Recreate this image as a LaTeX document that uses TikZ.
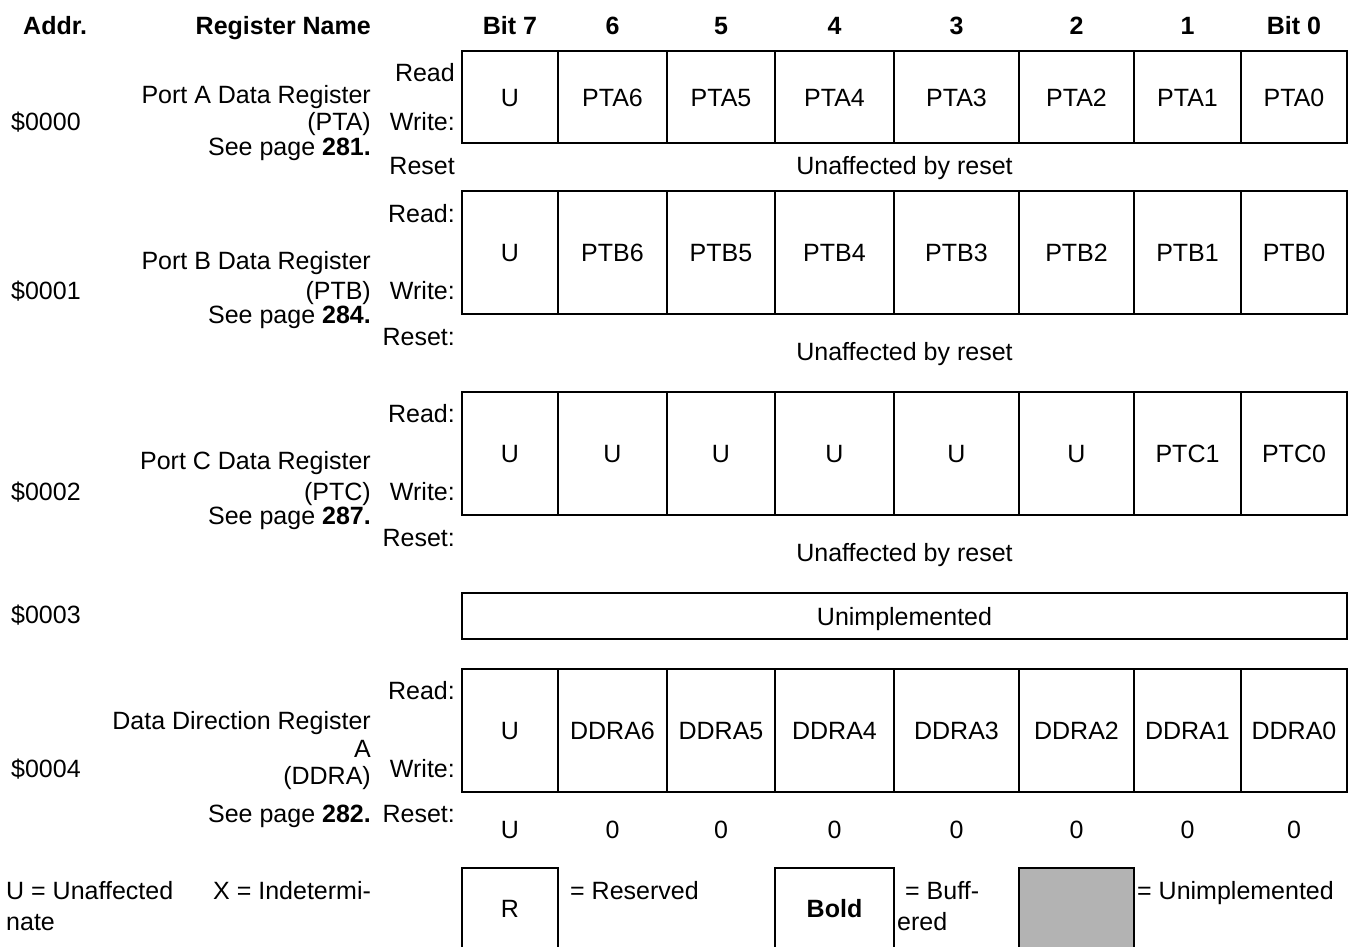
\documentclass[tikz,border=0pt]{standalone}
\usepackage{fontspec}
\setmainfont{Liberation Sans}
\usepackage{tikz}

\newcommand{\regfont}{\fontsize{25}{30}\selectfont}
\definecolor{unimpgray}{HTML}{B3B3B3}

\tikzset{
  txt/.style={inner sep=0pt, font=\regfont},
  hdr/.style={inner sep=0pt, font=\regfont\bfseries},
  cell/.style={draw, line width=2pt, inner sep=0pt, font=\regfont, text height=18pt, text depth=0pt},
  rowS/.style={minimum height=92pt},
  rowT/.style={minimum height=123pt},
  keybox/.style={cell, minimum height=80pt},
  col7/.style={minimum width=96pt},
  col6/.style={minimum width=109pt},
  col5/.style={minimum width=108pt},
  col4/.style={minimum width=119pt},
  col3/.style={minimum width=125pt},
  col2/.style={minimum width=115pt},
  col1/.style={minimum width=107pt},
  col0/.style={minimum width=106pt},
}

\begin{document}
\begin{tikzpicture}[x=1pt, y=-1pt]
    \useasboundingbox (0,0) rectangle (1349,946);
    % header line
    \node[hdr, anchor=base west] (haddr) at (23,34) {Addr.};
    \node[hdr, anchor=base east] (hname) at (371,34) {Register Name};
    \node[hdr, anchor=base] (hb7) at (510,34) {Bit 7};
    \node[hdr, anchor=base] (hb6) at (612.5,34) {6};
    \node[hdr, anchor=base] (hb5) at (721,34) {5};
    \node[hdr, anchor=base] (hb4) at (834.5,34) {4};
    \node[hdr, anchor=base] (hb3) at (956.5,34) {3};
    \node[hdr, anchor=base] (hb2) at (1076.5,34) {2};
    \node[hdr, anchor=base] (hb1) at (1187.5,34) {1};
    \node[hdr, anchor=base] (hb0) at (1294,34) {Bit 0};%
    % $0000 PTA
    \node[txt, anchor=base west] (addrA) at (11,130) {\$0000};
    \node[txt, anchor=base east] (nameA) at (371,103) {Port A Data Register};
    \node[txt, anchor=base east] (abbrA) at (371,130) {(PTA)};
    \node[txt, anchor=base east] (pageA) at (371,155) {See page \textbf{281.}};
    \node[txt, anchor=base east] (rdA) at (455,81) {Read};
    \node[txt, anchor=base east] (wrA) at (455,130) {Write:};
    \node[txt, anchor=base east] (rsA) at (455,174) {Reset};
    \node[cell, rowS, col7] (a7) at (510,97) {U};
    \node[cell, rowS, col6] (a6) at (612.5,97) {PTA6};
    \node[cell, rowS, col5] (a5) at (721,97) {PTA5};
    \node[cell, rowS, col4] (a4) at (834.5,97) {PTA4};
    \node[cell, rowS, col3] (a3) at (956.5,97) {PTA3};
    \node[cell, rowS, col2] (a2) at (1076.5,97) {PTA2};
    \node[cell, rowS, col1] (a1) at (1187.5,97) {PTA1};
    \node[cell, rowS, col0] (a0) at (1294,97) {PTA0};
    \node[txt, anchor=base] (resA) at (904.5,174) {Unaffected by reset};%
    % $0001 PTB
    \node[txt, anchor=base west] (addrB) at (11,299) {\$0001};
    \node[txt, anchor=base east] (nameB) at (371,269) {Port B Data Register};
    \node[txt, anchor=base east] (abbrB) at (371,299) {(PTB)};
    \node[txt, anchor=base east] (pageB) at (371,323) {See page \textbf{284.}};
    \node[txt, anchor=base east] (rdB) at (455,222) {Read:};
    \node[txt, anchor=base east] (wrB) at (455,299) {Write:};
    \node[txt, anchor=base east] (rsB) at (455,345) {Reset:};
    \node[cell, rowT, col7] (b7) at (510,252.5) {U};
    \node[cell, rowT, col6] (b6) at (612.5,252.5) {PTB6};
    \node[cell, rowT, col5] (b5) at (721,252.5) {PTB5};
    \node[cell, rowT, col4] (b4) at (834.5,252.5) {PTB4};
    \node[cell, rowT, col3] (b3) at (956.5,252.5) {PTB3};
    \node[cell, rowT, col2] (b2) at (1076.5,252.5) {PTB2};
    \node[cell, rowT, col1] (b1) at (1187.5,252.5) {PTB1};
    \node[cell, rowT, col0] (b0) at (1294,252.5) {PTB0};
    \node[txt, anchor=base] (resB) at (904.5,360) {Unaffected by reset};%
    % $0002 PTC
    \node[txt, anchor=base west] (addrC) at (11,500) {\$0002};
    \node[txt, anchor=base east] (nameC) at (371,469) {Port C Data Register};
    \node[txt, anchor=base east] (abbrC) at (371,500) {(PTC)};
    \node[txt, anchor=base east] (pageC) at (371,524) {See page \textbf{287.}};
    \node[txt, anchor=base east] (rdC) at (455,422) {Read:};
    \node[txt, anchor=base east] (wrC) at (455,500) {Write:};
    \node[txt, anchor=base east] (rsC) at (455,546) {Reset:};
    \node[cell, rowT, col7] (c7) at (510,453.5) {U};
    \node[cell, rowT, col6] (c6) at (612.5,453.5) {U};
    \node[cell, rowT, col5] (c5) at (721,453.5) {U};
    \node[cell, rowT, col4] (c4) at (834.5,453.5) {U};
    \node[cell, rowT, col3] (c3) at (956.5,453.5) {U};
    \node[cell, rowT, col2] (c2) at (1076.5,453.5) {U};
    \node[cell, rowT, col1] (c1) at (1187.5,453.5) {PTC1};
    \node[cell, rowT, col0] (c0) at (1294,453.5) {PTC0};
    \node[txt, anchor=base] (resC) at (904.5,561) {Unaffected by reset};%
    % $0003
    \node[txt, anchor=base west] (addrU) at (11,623) {\$0003};
    \node[cell, minimum width=885pt, minimum height=46pt] (unimp) at (904.5,616) {Unimplemented};%
    % $0004 DDRA
    \node[txt, anchor=base west] (addrD) at (11,777) {\$0004};
    \node[txt, anchor=base east] (nameD) at (371,729) {Data Direction Register};
    \node[txt, anchor=base east] (nameD2) at (371,757) {A};
    \node[txt, anchor=base east] (abbrD) at (371,784) {(DDRA)};
    \node[txt, anchor=base east] (pageD) at (371,822) {See page \textbf{282.}};
    \node[txt, anchor=base east] (rdD) at (455,699) {Read:};
    \node[txt, anchor=base east] (wrD) at (455,777) {Write:};
    \node[txt, anchor=base east] (rsD) at (455,822) {Reset:};
    \node[cell, rowT, col7] (d7) at (510,730.5) {U};
    \node[cell, rowT, col6] (d6) at (612.5,730.5) {DDRA6};
    \node[cell, rowT, col5] (d5) at (721,730.5) {DDRA5};
    \node[cell, rowT, col4] (d4) at (834.5,730.5) {DDRA4};
    \node[cell, rowT, col3] (d3) at (956.5,730.5) {DDRA3};
    \node[cell, rowT, col2] (d2) at (1076.5,730.5) {DDRA2};
    \node[cell, rowT, col1] (d1) at (1187.5,730.5) {DDRA1};
    \node[cell, rowT, col0] (d0) at (1294,730.5) {DDRA0};
    \node[txt, anchor=base] (r7) at (510,838) {U};
    \node[txt, anchor=base] (r6) at (612.5,838) {0};
    \node[txt, anchor=base] (r5) at (721,838) {0};
    \node[txt, anchor=base] (r4) at (834.5,838) {0};
    \node[txt, anchor=base] (r3) at (956.5,838) {0};
    \node[txt, anchor=base] (r2) at (1076.5,838) {0};
    \node[txt, anchor=base] (r1) at (1187.5,838) {0};
    \node[txt, anchor=base] (r0) at (1294,838) {0};%
    % key
    \node[txt, anchor=base west] (keyU) at (6,899) {U = Unaffected};
    \node[txt, anchor=base west] (keyX) at (213,899) {X = Indetermi-};
    \node[txt, anchor=base west] (keyX2) at (6,930) {nate};
    \node[keybox, col7] (keyR) at (510,908) {R};
    \node[txt, anchor=base west] (keyRt) at (570,899) {= Reserved};
    \node[keybox, col4] (keyB) at (834.5,908) {\textbf{Bold}};
    \node[txt, anchor=base west] (keyBt) at (905,899) {= Buff-};
    \node[txt, anchor=base west] (keyBt2) at (897,930) {ered};
    \node[keybox, col2, fill=unimpgray] (keyG) at (1076.5,908) {};
    \node[txt, anchor=base west] (keyGt) at (1137,899) {= Unimplemented};%
\end{tikzpicture}
\end{document}
